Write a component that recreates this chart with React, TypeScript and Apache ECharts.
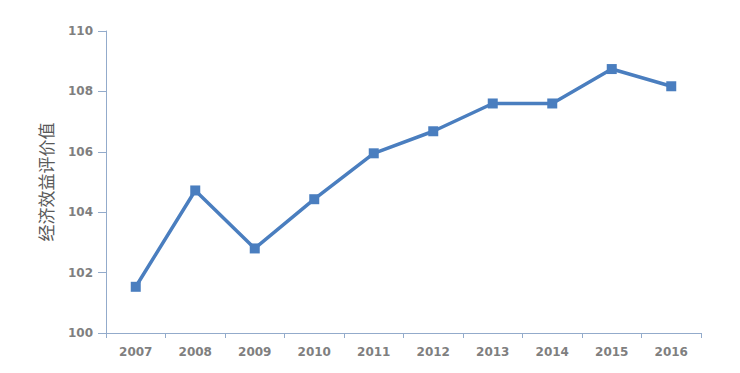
import React, { useEffect, useRef } from "react";
import * as echarts from "echarts";

const years = ["2007", "2008", "2009", "2010", "2011", "2012", "2013", "2014", "2015", "2016"];
const values = [101.53, 104.72, 102.8, 104.43, 105.95, 106.68, 107.6, 107.6, 108.74, 108.17];
const yAxisName = "经济效益评价值";

export default function App() {
  const ref = useRef<HTMLDivElement>(null);
  useEffect(() => {
    if (!ref.current) return;
    const chart = echarts.init(ref.current, undefined, { renderer: "svg" });
    const axisColor = "#93abcb";
    const labelColor = "#7f7f7f";
    chart.setOption({
      animation: false,
      backgroundColor: "#ffffff",
      grid: { left: 106, right: 39, top: 31, bottom: 40 },
      xAxis: {
        type: "category",
        data: years,
        boundaryGap: true,
        axisLine: { show: true, lineStyle: { color: axisColor, width: 1 } },
        axisTick: { show: true, length: 5, lineStyle: { color: axisColor } },
        axisLabel: {
          color: labelColor,
          fontFamily: "DejaVu Sans",
          fontWeight: "bold",
          fontSize: 12,
          margin: 13,
        },
        splitLine: { show: false },
      },
      yAxis: {
        type: "value",
        min: 100,
        max: 110,
        interval: 2,
        name: yAxisName,
        nameLocation: "middle",
        nameRotate: 90,
        nameGap: 52,
        nameTextStyle: {
          color: "#595959",
          fontSize: 17,
          fontFamily: "Noto Sans CJK SC",
        },
        axisLine: { show: true, lineStyle: { color: axisColor, width: 1 } },
        axisTick: { show: true, length: 8, lineStyle: { color: axisColor } },
        axisLabel: {
          color: labelColor,
          fontFamily: "DejaVu Sans",
          fontWeight: "bold",
          fontSize: 12,
          margin: 13,
        },
        splitLine: { show: false },
      },
      series: [
        {
          type: "line",
          data: values,
          symbol: "rect",
          symbolSize: 10,
          lineStyle: { color: "#4a7ebf", width: 3.5 },
          itemStyle: { color: "#4a7ebf" },
        },
      ],
    });
    return () => chart.dispose();
  }, []);
  return <div ref={ref} style={{ width: 740, height: 373, position: "absolute", left: 0, top: 0 }} />;
}
